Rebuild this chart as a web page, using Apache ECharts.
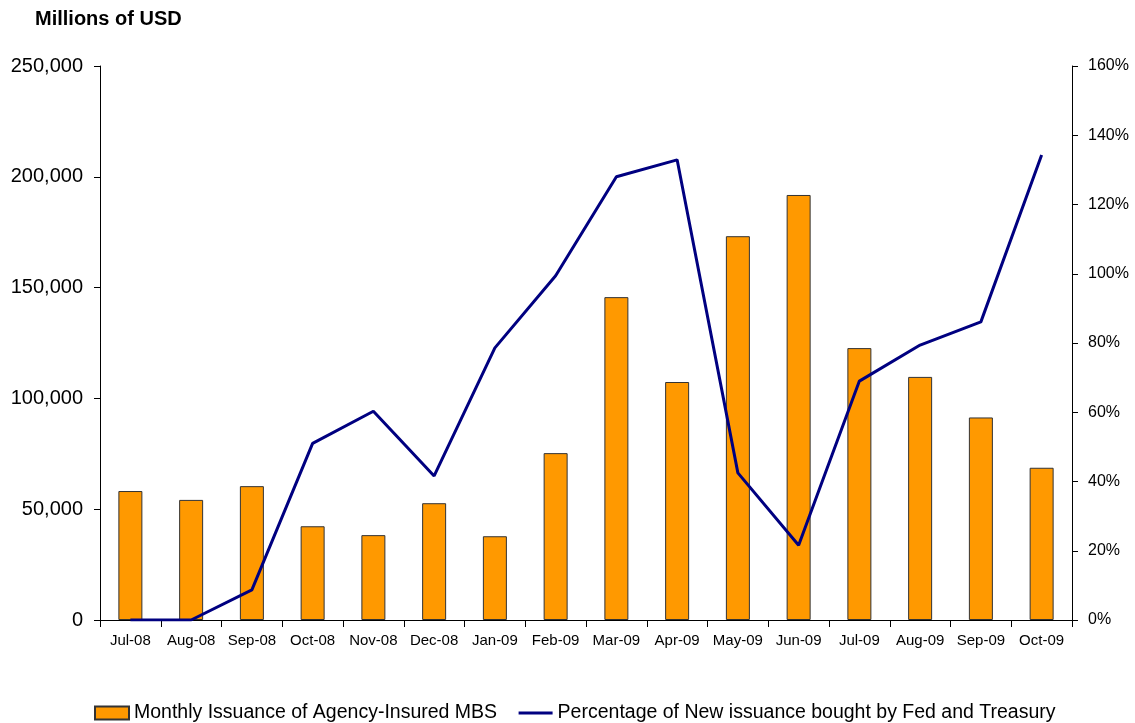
<!DOCTYPE html>
<html>
<head>
<meta charset="utf-8">
<script src="https://cdn.jsdelivr.net/npm/echarts@6/dist/echarts.min.js"></script>
<style>
  html, body { margin: 0; padding: 0; background: #fff; }
  #main { width: 1135px; height: 723px; }
</style>
</head>
<body>
<div id="main"></div>
<script>
// 数据
var months = ['Jul-08', 'Aug-08', 'Sep-08', 'Oct-08', 'Nov-08', 'Dec-08', 'Jan-09', 'Feb-09',
  'Mar-09', 'Apr-09', 'May-09', 'Jun-09', 'Jul-09', 'Aug-09', 'Sep-09', 'Oct-09']
var issuance = [58200, 54200, 60400, 42300, 38300, 52700, 37800, 75300,
  145700, 107400, 173200, 191800, 122700, 109700, 91400, 68700]
var pctBought = [0, 0, 8.7, 51, 60.3, 41.6, 78.6, 99.4,
  128, 132.9, 42.5, 21.6, 69, 79.4, 86.1, 134.3]

var font = 'Liberation Sans, Arial, sans-serif'

var myChart = echarts.init(document.getElementById('main'))
var option = {
  animation: false,
  textStyle: { fontFamily: font },
  title: {
    text: 'Millions of USD',
    left: 30,
    top: 4,
    textStyle: { fontFamily: font, fontSize: 20, fontWeight: 'bold', color: '#000' }
  },
  legend: {
    top: 698,
    left: 89,
    itemGap: 20,
    itemWidth: 34,
    itemHeight: 13,
    textStyle: { fontFamily: font, fontSize: 19.5, color: '#000' },
    data: [
      { name: 'Monthly Issuance of Agency-Insured MBS', icon: 'rect' },
      {
        name: 'Percentage of New issuance bought by Fed and Treasury',
        itemStyle: { opacity: 0 },
        lineStyle: { color: '#000080', width: 3 }
      }
    ]
  },
  grid: {
    left: 100,
    right: 63,
    top: 66,
    bottom: 103
  },
  xAxis: {
    type: 'category',
    data: months,
    axisLine: { lineStyle: { color: '#000' } },
    axisTick: { show: true, length: 7, lineStyle: { color: '#000' } },
    axisLabel: { color: '#000', fontSize: 15, margin: 13, interval: 0, fontFamily: font }
  },
  yAxis: [
    {
      type: 'value',
      min: 0,
      max: 250000,
      interval: 50000,
      axisLine: { show: true, lineStyle: { color: '#000' } },
      axisTick: { show: true, inside: false, length: 6, lineStyle: { color: '#000' } },
      splitLine: { show: false },
      axisLabel: {
        color: '#000',
        fontSize: 20,
        margin: 17,
        fontFamily: font,
        formatter: function(v) { return v.toLocaleString('en-US') }
      }
    },
    {
      type: 'value',
      min: 0,
      max: 160,
      interval: 20,
      position: 'right',
      axisLine: { show: true, lineStyle: { color: '#000' } },
      axisTick: { show: true, length: 6, lineStyle: { color: '#000' } },
      splitLine: { show: false },
      axisLabel: {
        color: '#000',
        fontSize: 16,
        margin: 16,
        fontFamily: font,
        formatter: '{value}%'
      }
    }
  ],
  series: [
    {
      name: 'Monthly Issuance of Agency-Insured MBS',
      type: 'bar',
      barWidth: 24,
      itemStyle: { color: '#FF9900', borderColor: '#333', borderWidth: 1 },
      data: issuance
    },
    {
      name: 'Percentage of New issuance bought by Fed and Treasury',
      type: 'line',
      yAxisIndex: 1,
      symbol: 'none',
      lineStyle: { color: '#000080', width: 3 },
      itemStyle: { color: '#000080' },
      data: pctBought
    }
  ]
}
myChart.setOption(option)
</script>
</body>
</html>
